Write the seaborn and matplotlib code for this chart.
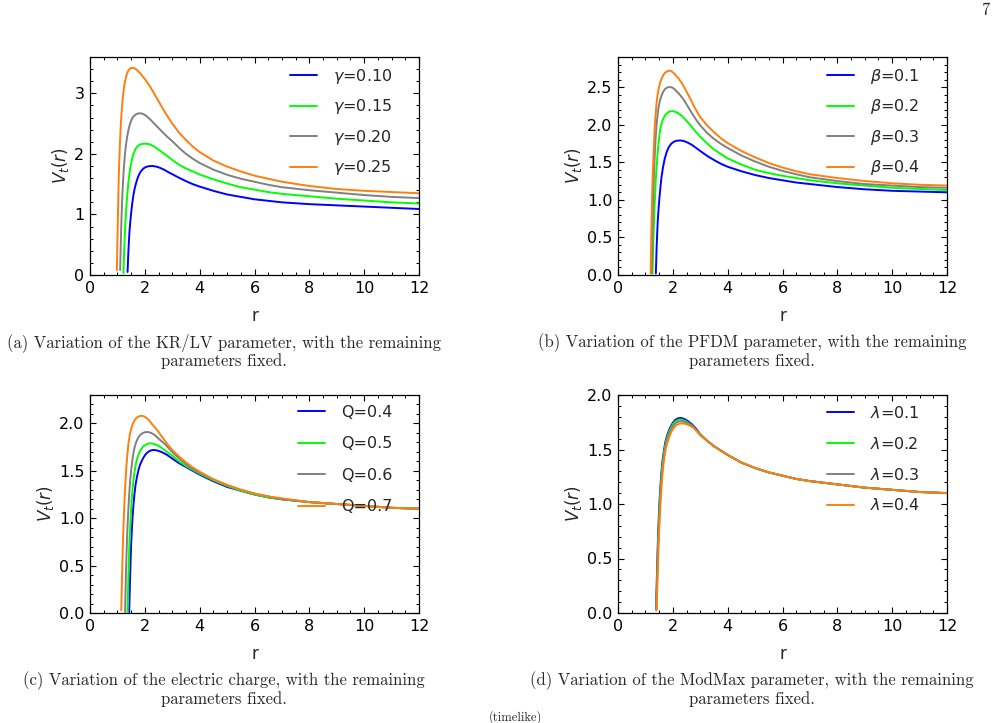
import pandas as pd
import seaborn as sns
import matplotlib.pyplot as plt
from matplotlib.ticker import MultipleLocator, AutoMinorLocator

# ---- data ----
colors = ["#0000ff", "#00ff00", "#808080", "#ff7f0e"]

# (a) KR/LV parameter gamma
gamma_labels = [r"$\gamma$=0.10", r"$\gamma$=0.15", r"$\gamma$=0.20", r"$\gamma$=0.25"]
a_r1 = [1.37, 1.385, 1.40, 1.42, 1.44, 1.47, 1.50, 1.54, 1.58, 1.63, 1.70, 1.77, 1.85, 1.95, 2.05, 2.15, 2.28,
        2.42, 2.55, 2.7, 2.85, 3.0, 3.25, 3.5, 3.75, 4.0, 4.5, 5, 5.5, 6, 6.5, 7, 8, 9, 10, 11, 12]
a_v1 = [0.05, 0.22, 0.38, 0.56, 0.72, 0.88, 1.02, 1.18, 1.31, 1.43, 1.55, 1.64, 1.71, 1.76, 1.785, 1.797, 1.80,
        1.79, 1.77, 1.74, 1.70, 1.665, 1.605, 1.55, 1.50, 1.46, 1.39, 1.33, 1.29, 1.25, 1.225, 1.20, 1.17, 1.15, 1.13, 1.11, 1.09]
a_r2 = [1.22, 1.235, 1.25, 1.27, 1.29, 1.315, 1.34, 1.37, 1.40, 1.44, 1.48, 1.53, 1.58, 1.65, 1.72, 1.80, 1.90, 2.05,
        2.2, 2.35, 2.5, 2.65, 2.8, 3.0, 3.25, 3.5, 3.75, 4.0, 4.5, 5, 5.5, 6, 6.5, 7, 8, 9, 10, 11, 12]
a_v2 = [0.03, 0.25, 0.45, 0.67, 0.85, 1.05, 1.22, 1.38, 1.52, 1.68, 1.80, 1.91, 1.99, 2.07, 2.12, 2.15, 2.165, 2.17,
        2.155, 2.12, 2.07, 2.02, 1.97, 1.90, 1.82, 1.76, 1.71, 1.66, 1.58, 1.51, 1.45, 1.41, 1.37, 1.34, 1.30, 1.26, 1.23, 1.20, 1.18]
a_r3 = [1.10, 1.11, 1.12, 1.135, 1.15, 1.17, 1.19, 1.215, 1.24, 1.275, 1.31, 1.355, 1.40, 1.45, 1.50, 1.57, 1.65, 1.73, 1.81,
        1.9, 2.0, 2.15, 2.3, 2.45, 2.6, 2.8, 3.0, 3.25, 3.5, 3.75, 4.0, 4.5, 5, 5.5, 6, 6.5, 7, 8, 9, 10, 11, 12]
a_v3 = [0.08, 0.28, 0.48, 0.72, 0.95, 1.20, 1.40, 1.62, 1.80, 1.99, 2.14, 2.28, 2.39, 2.48, 2.55, 2.61, 2.645, 2.665, 2.67,
        2.665, 2.645, 2.59, 2.52, 2.45, 2.38, 2.29, 2.21, 2.10, 2.00, 1.92, 1.85, 1.74, 1.655, 1.59, 1.54, 1.49, 1.45, 1.40, 1.36, 1.32, 1.29, 1.27]
a_r4 = [0.98, 0.99, 1.00, 1.015, 1.03, 1.05, 1.07, 1.095, 1.12, 1.155, 1.19, 1.23, 1.27, 1.315, 1.36, 1.41, 1.46, 1.52, 1.57,
        1.64, 1.70, 1.78, 1.85, 1.92, 2.0, 2.15, 2.3, 2.45, 2.6, 2.8, 3.0, 3.25, 3.5, 3.75, 4.0, 4.5, 5, 5.5, 6, 6.5, 7, 8, 9, 10, 11, 12]
a_v4 = [0.08, 0.32, 0.55, 0.90, 1.25, 1.62, 1.90, 2.20, 2.45, 2.70, 2.90, 3.06, 3.18, 3.27, 3.34, 3.385, 3.41, 3.42, 3.42,
        3.41, 3.39, 3.355, 3.32, 3.28, 3.235, 3.14, 3.03, 2.91, 2.79, 2.64, 2.50, 2.35, 2.23, 2.12, 2.03, 1.89, 1.79, 1.71, 1.64, 1.59, 1.54, 1.47, 1.42, 1.39, 1.37, 1.35]

# (b) PFDM parameter beta
beta_labels = [r"$\beta$=0.1", r"$\beta$=0.2", r"$\beta$=0.3", r"$\beta$=0.4"]
b_r1 = [1.38, 1.395, 1.41, 1.43, 1.45, 1.48, 1.51, 1.55, 1.59, 1.64, 1.70, 1.77, 1.85, 1.95, 2.05, 2.15, 2.29,
        2.42, 2.55, 2.7, 2.85, 3.0, 3.25, 3.5, 3.75, 4.0, 4.5, 5, 5.5, 6, 6.5, 7, 8, 9, 10, 11, 12]
b_v1 = [0.02, 0.20, 0.38, 0.56, 0.72, 0.88, 1.02, 1.18, 1.31, 1.43, 1.54, 1.63, 1.70, 1.75, 1.775, 1.787, 1.79,
        1.78, 1.76, 1.73, 1.69, 1.65, 1.585, 1.53, 1.48, 1.44, 1.38, 1.33, 1.29, 1.26, 1.23, 1.21, 1.17, 1.14, 1.12, 1.11, 1.10]
b_r2 = [1.26, 1.275, 1.29, 1.31, 1.33, 1.355, 1.38, 1.41, 1.44, 1.48, 1.52, 1.57, 1.62, 1.68, 1.75, 1.83, 1.91, 1.99,
        2.1, 2.2, 2.35, 2.5, 2.65, 2.8, 3.0, 3.25, 3.5, 3.75, 4.0, 4.5, 5, 5.5, 6, 6.5, 7, 8, 9, 10, 11, 12]
b_v2 = [0.02, 0.24, 0.45, 0.67, 0.88, 1.08, 1.28, 1.45, 1.60, 1.76, 1.89, 1.99, 2.05, 2.10, 2.14, 2.165, 2.177, 2.18,
        2.17, 2.15, 2.11, 2.05, 1.99, 1.92, 1.84, 1.75, 1.67, 1.61, 1.55, 1.47, 1.40, 1.355, 1.32, 1.29, 1.26, 1.22, 1.19, 1.16, 1.145, 1.13]
b_r3 = [1.23, 1.24, 1.25, 1.265, 1.28, 1.30, 1.32, 1.345, 1.37, 1.40, 1.44, 1.48, 1.53, 1.59, 1.65, 1.72, 1.80, 1.90,
        2.0, 2.1, 2.25, 2.4, 2.55, 2.7, 2.85, 3.0, 3.25, 3.5, 3.75, 4.0, 4.5, 5, 5.5, 6, 6.5, 7, 8, 9, 10, 11, 12]
b_v3 = [0.02, 0.22, 0.45, 0.70, 0.95, 1.20, 1.42, 1.62, 1.80, 1.97, 2.12, 2.23, 2.32, 2.39, 2.44, 2.475, 2.495, 2.50,
        2.49, 2.46, 2.40, 2.33, 2.24, 2.15, 2.065, 1.99, 1.89, 1.81, 1.745, 1.69, 1.59, 1.51, 1.44, 1.385, 1.34, 1.30, 1.25, 1.21, 1.19, 1.17, 1.16]
b_r4 = [1.19, 1.20, 1.21, 1.225, 1.24, 1.26, 1.28, 1.305, 1.33, 1.36, 1.40, 1.44, 1.49, 1.545, 1.60, 1.67, 1.75, 1.86,
        1.95, 2.05, 2.2, 2.35, 2.5, 2.65, 2.8, 3.0, 3.25, 3.5, 3.75, 4.0, 4.5, 5, 5.5, 6, 6.5, 7, 8, 9, 10, 11, 12]
b_v4 = [0.02, 0.22, 0.45, 0.72, 0.98, 1.25, 1.45, 1.68, 1.90, 2.08, 2.26, 2.39, 2.49, 2.57, 2.62, 2.67, 2.70, 2.72,
        2.71, 2.68, 2.62, 2.54, 2.44, 2.335, 2.225, 2.10, 1.99, 1.90, 1.82, 1.755, 1.65, 1.565, 1.49, 1.43, 1.38, 1.34, 1.29, 1.25, 1.22, 1.20, 1.19]

# (c) electric charge Q
q_labels = ["Q=0.4", "Q=0.5", "Q=0.6", "Q=0.7"]
c_r1 = [1.43, 1.445, 1.46, 1.48, 1.50, 1.525, 1.55, 1.585, 1.62, 1.66, 1.71, 1.76, 1.82, 1.88, 1.95, 2.03, 2.12, 2.22, 2.32,
        2.45, 2.6, 2.8, 3.0, 3.25, 3.5, 3.75, 4.0, 4.5, 5, 5.5, 6, 6.5, 7, 8, 9, 10, 11, 12]
c_v1 = [0.01, 0.18, 0.35, 0.54, 0.72, 0.87, 1.00, 1.14, 1.25, 1.35, 1.43, 1.50, 1.56, 1.60, 1.64, 1.675, 1.70, 1.715, 1.72,
        1.715, 1.70, 1.67, 1.63, 1.58, 1.54, 1.50, 1.46, 1.39, 1.33, 1.29, 1.25, 1.22, 1.20, 1.17, 1.15, 1.13, 1.11, 1.10]
c_r2 = [1.37, 1.385, 1.40, 1.42, 1.44, 1.465, 1.49, 1.52, 1.55, 1.585, 1.62, 1.67, 1.72, 1.78, 1.85, 1.93, 2.0, 2.1, 2.20,
        2.32, 2.45, 2.6, 2.8, 3.0, 3.25, 3.5, 3.75, 4.0, 4.5, 5, 5.5, 6, 6.5, 7, 8, 9, 10, 11, 12]
c_v2 = [0.01, 0.20, 0.38, 0.57, 0.75, 0.91, 1.05, 1.19, 1.30, 1.40, 1.48, 1.57, 1.63, 1.68, 1.72, 1.755, 1.77, 1.785, 1.79,
        1.785, 1.77, 1.745, 1.70, 1.66, 1.60, 1.55, 1.51, 1.47, 1.40, 1.34, 1.29, 1.25, 1.22, 1.20, 1.17, 1.15, 1.13, 1.11, 1.10]
c_r3 = [1.28, 1.295, 1.31, 1.33, 1.35, 1.375, 1.40, 1.43, 1.46, 1.495, 1.53, 1.575, 1.62, 1.68, 1.74, 1.82, 1.90, 2.0, 2.11,
        2.23, 2.35, 2.5, 2.7, 2.9, 3.1, 3.3, 3.5, 3.75, 4.0, 4.5, 5, 5.5, 6, 6.5, 7, 8, 9, 10, 11, 12]
c_v3 = [0.01, 0.21, 0.40, 0.60, 0.78, 0.95, 1.10, 1.25, 1.38, 1.49, 1.58, 1.67, 1.74, 1.80, 1.84, 1.875, 1.895, 1.907, 1.91,
        1.90, 1.88, 1.84, 1.79, 1.73, 1.67, 1.62, 1.57, 1.52, 1.48, 1.41, 1.35, 1.30, 1.26, 1.23, 1.20, 1.17, 1.15, 1.13, 1.11, 1.10]
c_r4 = [1.14, 1.155, 1.17, 1.19, 1.21, 1.235, 1.26, 1.29, 1.32, 1.36, 1.40, 1.45, 1.50, 1.56, 1.62, 1.68, 1.75, 1.82, 1.89,
        1.97, 2.05, 2.15, 2.3, 2.45, 2.6, 2.8, 3.0, 3.25, 3.5, 3.75, 4.0, 4.5, 5, 5.5, 6, 6.5, 7, 8, 9, 10, 11, 12]
c_v4 = [0.03, 0.22, 0.40, 0.62, 0.82, 1.02, 1.20, 1.37, 1.52, 1.66, 1.78, 1.88, 1.94, 1.995, 2.03, 2.055, 2.07, 2.078, 2.08,
        2.075, 2.06, 2.035, 1.98, 1.93, 1.87, 1.79, 1.72, 1.65, 1.59, 1.535, 1.49, 1.41, 1.35, 1.30, 1.26, 1.23, 1.21, 1.17, 1.15, 1.13, 1.11, 1.10]

# (d) ModMax parameter lambda
lam_labels = [r"$\lambda$=0.1", r"$\lambda$=0.2", r"$\lambda$=0.3", r"$\lambda$=0.4"]
d_tail_r = [3.25, 3.5, 3.75, 4, 4.5, 5, 5.5, 6, 6.5, 7, 8, 9, 10, 11, 12]
d_tail_v = [1.58, 1.53, 1.49, 1.45, 1.38, 1.33, 1.29, 1.26, 1.23, 1.21, 1.18, 1.15, 1.13, 1.11, 1.10]
d_r1 = [1.39, 1.405, 1.42, 1.44, 1.46, 1.485, 1.51, 1.545, 1.58, 1.625, 1.67, 1.72, 1.78, 1.85, 1.92, 2.0, 2.08, 2.18, 2.29,
        2.42, 2.55, 2.7, 2.85, 3.0]
d_v1 = [0.03, 0.20, 0.35, 0.53, 0.70, 0.86, 1.00, 1.15, 1.28, 1.40, 1.48, 1.56, 1.62, 1.67, 1.71, 1.745, 1.77, 1.785, 1.79,
        1.78, 1.76, 1.73, 1.69, 1.64]
d_r2 = [1.40, 1.415, 1.43, 1.45, 1.47, 1.495, 1.52, 1.555, 1.59, 1.635, 1.68, 1.73, 1.79, 1.86, 1.93, 2.01, 2.09, 2.19, 2.30,
        2.43, 2.56, 2.7, 2.85, 3.0]
d_v2 = [0.03, 0.20, 0.35, 0.52, 0.69, 0.85, 0.99, 1.14, 1.27, 1.39, 1.47, 1.55, 1.61, 1.66, 1.70, 1.735, 1.757, 1.772, 1.775,
        1.765, 1.745, 1.72, 1.68, 1.64]
d_r3 = [1.40, 1.42, 1.44, 1.46, 1.48, 1.505, 1.53, 1.565, 1.60, 1.645, 1.69, 1.74, 1.80, 1.87, 1.94, 2.02, 2.11, 2.21, 2.32,
        2.45, 2.58, 2.72, 2.86, 3.0]
d_v3 = [0.03, 0.24, 0.40, 0.56, 0.70, 0.85, 0.98, 1.13, 1.26, 1.38, 1.46, 1.54, 1.60, 1.65, 1.69, 1.72, 1.745, 1.757, 1.76,
        1.75, 1.735, 1.71, 1.675, 1.635]
d_r4 = [1.41, 1.43, 1.45, 1.47, 1.49, 1.515, 1.54, 1.575, 1.61, 1.655, 1.70, 1.75, 1.82, 1.89, 1.96, 2.04, 2.13, 2.24, 2.35,
        2.48, 2.61, 2.75, 2.88, 3.0]
d_v4 = [0.03, 0.22, 0.38, 0.54, 0.69, 0.83, 0.96, 1.11, 1.24, 1.36, 1.44, 1.52, 1.58, 1.63, 1.67, 1.70, 1.725, 1.737, 1.74,
        1.733, 1.72, 1.70, 1.665, 1.63]

captions = [
    "(a) Variation of the KR/LV parameter, with the remaining\nparameters fixed.",
    "(b) Variation of the PFDM parameter, with the remaining\nparameters fixed.",
    "(c) Variation of the electric charge, with the remaining\nparameters fixed.",
    "(d) Variation of the ModMax parameter, with the remaining\nparameters fixed.",
]


def make_df(rs, vs, labels):
    rows = []
    for r, v, lab in zip(rs, vs, labels):
        rows.append(pd.DataFrame({"r": r, "V": v, "curve": lab}))
    return pd.concat(rows, ignore_index=True)


# (frame, labels, y top, y step, legend row spacing)
panels = [
    (make_df([a_r1, a_r2, a_r3, a_r4], [a_v1, a_v2, a_v3, a_v4], gamma_labels), gamma_labels, 3.6, 1.0, 0.72),
    (make_df([b_r1, b_r2, b_r3, b_r4], [b_v1, b_v2, b_v3, b_v4], beta_labels), beta_labels, 2.9, 0.5, 0.72),
    (make_df([c_r1, c_r2, c_r3, c_r4], [c_v1, c_v2, c_v3, c_v4], q_labels), q_labels, 2.3, 0.5, 1.03),
    (make_df([d_r1 + d_tail_r, d_r2 + d_tail_r, d_r3 + d_tail_r, d_r4 + d_tail_r],
             [d_v1 + d_tail_v, d_v2 + d_tail_v, d_v3 + d_tail_v, d_v4 + d_tail_v], lam_labels), lam_labels, 2.0, 0.5, 0.93),
]

# ---- style ----
sns.set_style("ticks")
plt.rcParams.update({
    "font.family": ["DejaVu Sans"],
    "mathtext.fontset": "dejavusans",
    "xtick.direction": "in", "ytick.direction": "in",
    "xtick.top": True, "ytick.right": True,
    "xtick.major.size": 4.5, "ytick.major.size": 4.5,
    "xtick.minor.size": 2.5, "ytick.minor.size": 2.5,
    "xtick.major.width": 0.8, "ytick.major.width": 0.8,
    "xtick.minor.width": 0.7, "ytick.minor.width": 0.7,
    "xtick.minor.visible": True, "ytick.minor.visible": True,
    "axes.linewidth": 0.9, "axes.edgecolor": "black",
    "xtick.color": "black", "ytick.color": "black",
})

W, H = 1002, 723
fig = plt.figure(figsize=(W / 100, H / 100), dpi=100)
fig.patch.set_facecolor("white")

boxes = [(90, 57), (618, 57), (90, 395), (618, 395)]
for (df, labels, ytop, ystep, lspace), (px, py), cap, cx in zip(panels, boxes, captions, [224, 752, 224, 752]):
    ax = fig.add_axes([px / W, 1 - (py + 218) / H, 329 / W, 218 / H])
    sns.lineplot(data=df, x="r", y="V", hue="curve", hue_order=labels, palette=colors,
                 estimator=None, errorbar=None, linewidth=1.4, ax=ax)
    ax.set_xlim(0, 12)
    ax.set_ylim(0, ytop)
    ax.xaxis.set_major_locator(MultipleLocator(2))
    ax.xaxis.set_minor_locator(AutoMinorLocator(4))
    ax.yaxis.set_major_locator(MultipleLocator(ystep))
    ax.yaxis.set_minor_locator(AutoMinorLocator(5))
    if ystep == 1.0:
        ax.yaxis.set_major_formatter(plt.FormatStrFormatter("%d"))
    else:
        ax.yaxis.set_major_formatter(plt.FormatStrFormatter("%.1f"))
    ax.tick_params(labelsize=11.5, pad=4)
    ax.set_xlabel("r", fontsize=12, labelpad=8)
    ax.set_ylabel(r"$V_t(r)$", fontsize=12, labelpad=2)
    ax.legend(frameon=False, loc="upper right", bbox_to_anchor=(0.967, 1.028), fontsize=11.5,
              handlelength=1.7, handletextpad=1.0, labelspacing=lspace, borderaxespad=0.6)
    fig.text(cx / W, 1 - (py + 276) / H, cap, ha="center", va="top", family="cmr10",
             fontsize=12, linespacing=1.12)

fig.text(985 / W, 1 - 3 / H, "7", ha="center", va="top", family="cmr10", fontsize=12)
fig.text(515 / W, 1 - 717 / H, "(timelike)", ha="center", va="center", family="cmr10", fontsize=9)

fig.savefig("out.png", dpi=100, facecolor="white")
